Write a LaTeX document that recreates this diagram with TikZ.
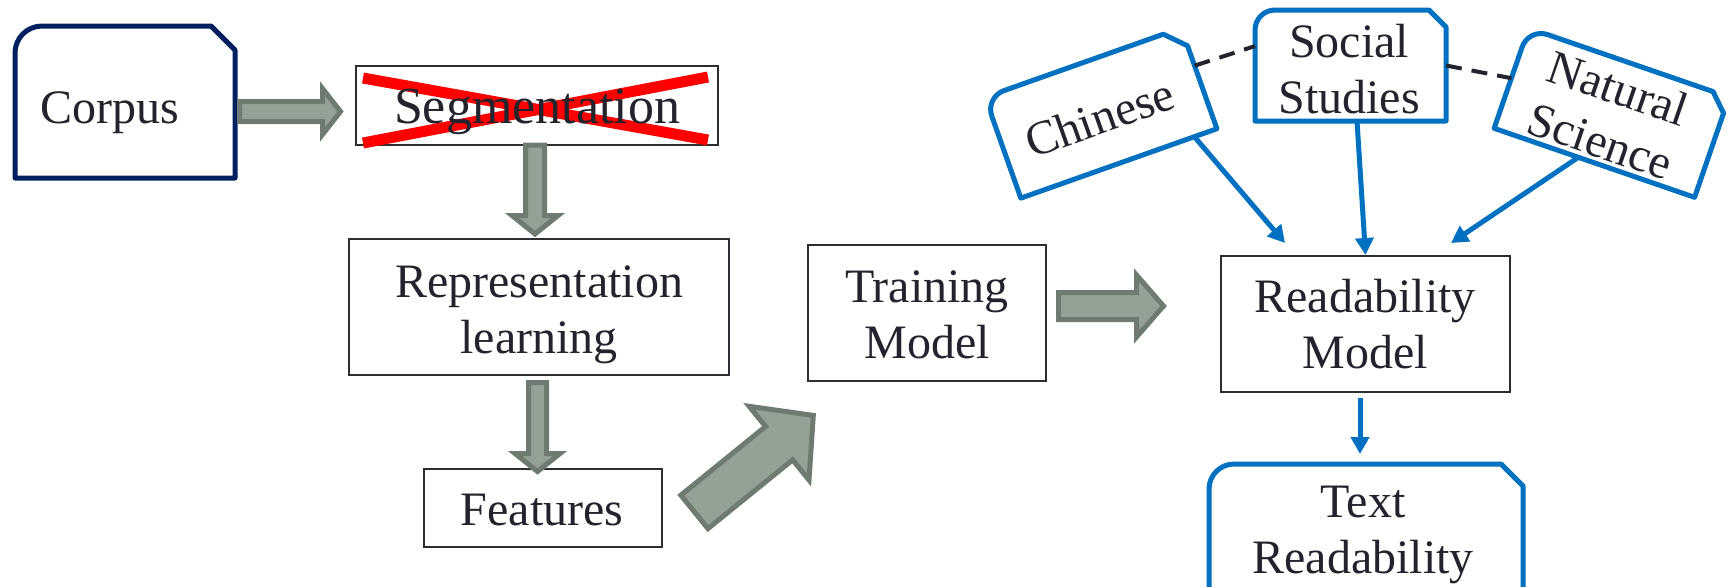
\documentclass[tikz,border=0pt]{standalone}
\usepackage{fontspec}
\setmainfont{Liberation Serif}
\usetikzlibrary{calc,arrows.meta}

\definecolor{navyline}{RGB}{0,32,96}
\definecolor{tagblue}{RGB}{0,112,192}
\definecolor{arrowfill}{RGB}{148,162,150}
\definecolor{arrowedge}{RGB}{111,123,112}
\definecolor{ink}{RGB}{35,35,45}
\definecolor{boxedge}{RGB}{45,45,50}
\definecolor{crossred}{RGB}{255,0,0}

\tikzset{
  anchorbox/.style={shape=rectangle, inner sep=0pt, outer sep=0pt},
  plainbox/.style={anchorbox, draw=boxedge, line width=1pt},
  txt/.style={inner sep=0pt, outer sep=0pt, anchor=base, text=ink,
              font=\fontsize{24}{28}\selectfont},
  corpusline/.style={draw=navyline, fill=white, line width=2.5pt, line join=round},
  tagline/.style={draw=tagblue, fill=white, line width=2.5pt, line join=round},
  blockarr/.style={draw=arrowedge, fill=arrowfill, line width=2.5pt, line join=miter},
  feed/.style={draw=tagblue, line width=2.5pt, -{Triangle[length=8.5pt,width=9pt]}},
  peer/.style={draw=ink, line width=2pt, dash pattern=on 8pt off 5pt},
  cross/.style={draw=crossred, line width=5.5pt},
}

% outline of a tag: rounded top-left corner, clipped top-right corner
% #1 style, #2 centre, #3 angle, #4 half width, #5 half height, #6 radius, #7 cut (pt)
\newcommand\tagoutline[7]{%
  \begin{scope}[shift={(#2)}, rotate=#3, x=1pt, y=1pt]
    \draw[#1] (-#4,-#5) -- (-#4,#5-#6)
      arc[start angle=180, end angle=90, radius=#6pt]
      -- (#4-#7,#5) -- (#4,#5-#7) -- (#4,-#5) -- cycle;
  \end{scope}}

% broad outlined arrow from #1 to #2: shaft half width #3, head half width #4, head length #5
\newcommand\blockarrow[5]{%
  \draw[blockarr] let \p1=($(#2)-(#1)$), \n1={atan2(\y1,\x1)},
                      \n2={veclen(\x1,\y1)-#5} in
    ($(#1)+(\n1+90:#3)$) -- ($(#1)+(\n1:\n2)+(\n1+90:#3)$)
    -- ($(#1)+(\n1:\n2)+(\n1+90:#4)$) -- (#2)
    -- ($(#1)+(\n1:\n2)+(\n1-90:#4)$) -- ($(#1)+(\n1:\n2)+(\n1-90:#3)$)
    -- ($(#1)+(\n1-90:#3)$) -- cycle;}

\newcommand\twolines[2]{\begin{tabular}[t]{@{}c@{}}#1\\#2\end{tabular}}

\begin{document}
\begin{tikzpicture}[x=0.5pt, y=-0.5pt]
\useasboundingbox (0,0) rectangle (1729,586);

% ---- left pipeline ----
\node[anchorbox, minimum width=110pt, minimum height=76pt] (corpus) at (125,102) {};
\tagoutline{corpusline}{corpus.center}{0}{55}{38}{13.5}{12}
\node[txt] (corpus-label) at (110,123) {Corpus};

\node[plainbox, minimum width=181pt, minimum height=39.5pt] (seg) at (537,105.5) {};
\draw[cross] ($(seg.north west)+(7,12)$) -- ($(seg.south east)+(-10,-5)$);
\draw[cross] ($(seg.south west)+(7,-2)$) -- ($(seg.north east)+(-10,11)$);
\node[txt, font=\fontsize{26}{30}\selectfont] (seg-label) at (537,123) {Segmentation};

\node[plainbox, minimum width=190pt, minimum height=68pt] (rep) at (539,307) {};
\node[txt] (rep-label) at (539,297) {\twolines{Representation}{learning}};

\node[plainbox, minimum width=119pt, minimum height=39pt] (feat) at (543,508) {};
\node[txt] (feat-label) at (542,525) {Features};

\node[plainbox, minimum width=119pt, minimum height=68pt] (train) at (927,313) {};
\node[txt] (train-label) at (927,302) {\twolines{Training}{Model}};

\node[plainbox, minimum width=144.5pt, minimum height=68pt] (read) at (1365.5,324) {};
\node[txt] (read-label) at (1365,312) {\twolines{Readability}{Model}};

% ---- subject tags ----
\node[anchorbox, minimum width=95.5pt, minimum height=55.5pt] (social) at (1350.5,65.5) {};
\tagoutline{tagline}{social.center}{0}{47.75}{27.75}{10}{8.5}
\node[txt] (social-label) at (1349,57) {\twolines{Social}{Studies}};

\node[anchorbox, rotate=19.5, minimum width=104pt, minimum height=53.5pt] (chinese) at (1101,113) {};
\tagoutline{tagline}{chinese.center}{19.5}{52}{26.75}{10}{9.5}
\node[txt, rotate=19.5] (chinese-label) at (1105,133) {Chinese};

\node[anchorbox, rotate=-19, minimum width=106pt, minimum height=53pt] (natural) at (1611.6,112.7) {};
\tagoutline{tagline}{natural.center}{-19}{53}{26.5}{10}{8.5}
\node[txt, rotate=-19] (natural-label) at (1613,103.5) {\twolines{Natural}{Science}};

\node[anchorbox, minimum width=157pt, minimum height=93pt] (textread) at (1366,557) {};
\tagoutline{tagline}{textread.center}{0}{78.5}{46.5}{12.5}{11}
\node[txt] (textread-label) at (1363,517) {\twolines{Text}{Readability}};

% ---- broad arrows ----
\coordinate (a1s) at ($(corpus.east)+(4.5,9.5)$);
\coordinate (a1e) at ($(seg.west)+(-15.5,6)$);
\blockarrow{a1s}{a1e}{5pt}{11.5pt}{9pt}

\coordinate (a2s) at ($(seg.south)+(-2,0)$);
\coordinate (a2e) at ($(rep.north)+(-4,-5)$);
\blockarrow{a2s}{a2e}{4.75pt}{11.5pt}{9.25pt}

\coordinate (a3s) at ($(rep.south)+(-1.5,7.5)$);
\coordinate (a3e) at ($(feat.north)+(-5.5,2.5)$);
\blockarrow{a3s}{a3e}{4.5pt}{11.25pt}{9pt}

\coordinate (a4s) at ($(feat.east)+(32.4,3.9)$);
\coordinate (a4e) at ($(train.south west)+(5.3,34.4)$);
\blockarrow{a4s}{a4e}{10.75pt}{23.75pt}{22pt}

\coordinate (a5s) at ($(train.east)+(12.5,-7)$);
\coordinate (a5e) at ($(read.west)+(-57.5,-18)$);
\blockarrow{a5s}{a5e}{6.75pt}{15.5pt}{13.5pt}

% ---- links between tags ----
\draw[peer] ($(chinese.east)!0.25!(chinese.north east)$) -- ($(social.west)!0.35!(social.north west)$);
\draw[peer] (social.east) -- (natural.west);

\draw[feed] ($(chinese.south)!0.77!(chinese.south east)$) -- ($(read.north)+(-80.5,-13)$);
\draw[feed] ($(social.south)+(6.5,0)$) -- ($(read.north)+(0,-1)$);
\draw[feed] ($(natural.south)!0.16!(natural.south west)$) -- ($(read.north)+(85.5,-13)$);
\draw[feed] ($(read.south)+(-5.5,6)$) -- ($(textread.north)+(-6,-10)$);
\end{tikzpicture}
\end{document}
